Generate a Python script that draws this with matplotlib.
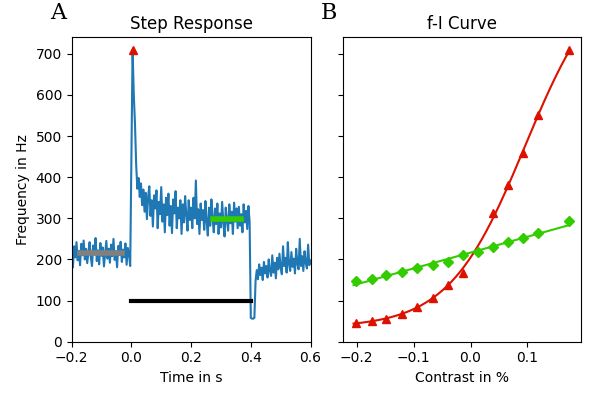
#!/usr/bin/env python3
# Step response and f-I curve of a neuron

import matplotlib
matplotlib.use('Agg')
import matplotlib.pyplot as plt
import numpy as np

# --- step response: firing rate sampled every 4 ms from -0.2 s to 0.6 s
dt = 0.004
t_start = -0.2
rate_baseline = [195, 180, 232, 205, 242, 198, 221, 186, 238, 210,
                 246, 200, 226, 191, 218, 242, 205, 184, 234, 212,
                 252, 196, 222, 188, 240, 209, 229, 183, 215, 245,
                 202, 226, 192, 236, 208, 250, 199, 220, 181, 233,
                 211, 243, 194, 224, 205, 239, 187, 228, 214, 184]
rate_stimulus = [455, 710, 600, 530, 430, 372, 398, 352, 385, 332,
                 370, 316, 362, 298, 352, 378, 306, 344, 280, 356,
                 324, 368, 276, 340, 310, 376, 292, 334, 266, 350,
                 308, 360, 282, 330, 264, 346, 312, 366, 276, 326,
                 300, 344, 262, 334, 290, 354, 308, 270, 344, 296,
                 326, 276, 350, 300, 392, 286, 322, 262, 336, 296,
                 320, 272, 342, 292, 258, 326, 282, 346, 300, 266,
                 324, 286, 336, 262, 312, 278, 340, 290, 256, 326,
                 296, 270, 334, 288, 316, 262, 338, 292, 324, 276,
                 328, 282, 310, 266, 334, 290, 318, 274, 330, 292]
rate_after = [58, 56, 56, 58,
              148, 174, 152, 188, 162, 180, 150, 194, 166, 184,
              156, 200, 172, 160, 210, 168, 192, 154, 204, 176,
              214, 180, 164, 232, 184, 204, 168, 242, 188, 172,
              218, 182, 202, 166, 226, 190, 176, 250, 184, 208,
              172, 220, 192, 178, 236, 186, 198]

stim_on, stim_off = 0.0, 0.4
stim_level = 100
baseline_win = (-0.172, -0.03)
steady_win = (0.272, 0.368)

# --- f-I curve
contrast = [-0.2017, -0.1740, -0.1483, -0.1212, -0.0936, -0.0666, -0.0397,
            -0.0138, 0.0127, 0.0397, 0.0662, 0.0931, 0.1190, 0.1738]
onset_rate = [46, 50, 56, 68, 84, 107, 138, 167, None, 313, 380, 459, 552, 709]
steady_rate = [147, 153, 161, 170, 179, 186, 193, 210, 217, 230, 242, 252, 264, 293]

red = '#dd1100'
green = '#33cc00'

rate = np.array(rate_baseline + rate_stimulus + rate_after, dtype=float)
time = t_start + dt * np.arange(len(rate))

fig = plt.figure(figsize=(6, 4), dpi=100)
ax1 = fig.add_axes([0.1195, 0.1458, 0.398, 0.7617])
ax2 = fig.add_axes([0.5712, 0.1458, 0.3967, 0.7617], sharey=ax1)

# Step response
ax1.plot(time, rate, color='#1f77b4', lw=1.5)
imax = np.argmax(rate)
ax1.plot(time[imax], rate[imax], '^', color=red, ms=6)
sel = (time >= baseline_win[0]) & (time <= baseline_win[1])
ax1.plot(baseline_win, [rate[sel].mean()] * 2, color='gray', lw=4)
sel = (time >= steady_win[0]) & (time <= steady_win[1])
ax1.plot(steady_win, [rate[sel].mean()] * 2, color=green, lw=4)
ax1.plot([stim_on, stim_off], [stim_level] * 2, color='black', lw=3)
ax1.set_xlim(-0.2, 0.6)
ax1.set_ylim(0, 741)
ax1.set_xticks([-0.2, 0.0, 0.2, 0.4, 0.6])
ax1.set_xlabel('Time in s')
ax1.set_ylabel('Frequency in Hz')
ax1.set_title('Step Response')

# f-I curve with fits
x = np.array(contrast)
on = np.array([np.nan if v is None else v for v in onset_rate], dtype=float)
ss = np.array(steady_rate, dtype=float)
ok = ~np.isnan(on)
xo, yo = x[ok], on[ok]

# Boltzmann fit: grid over midpoint and width, linear solve for base and amplitude
x0g, wg = np.meshgrid(np.linspace(-0.1, 0.4, 251), np.linspace(0.01, 0.2, 191))
x0g, wg = x0g.ravel()[:, None], wg.ravel()[:, None]
s = 1.0 / (1.0 + np.exp(-(xo[None, :] - x0g) / wg))
sm = s.mean(axis=1, keepdims=True)
ym = yo.mean()
amp = ((s - sm) * (yo - ym)).sum(axis=1, keepdims=True) / ((s - sm) ** 2).sum(axis=1, keepdims=True)
base = ym - amp * sm
err = ((base + amp * s - yo) ** 2).sum(axis=1)
k = np.argmin(err)
xf = np.linspace(x.min() - 0.004, x.max() + 0.001, 200)
yf = base[k, 0] + amp[k, 0] / (1.0 + np.exp(-(xf - x0g[k, 0]) / wg[k, 0]))

lin = np.polyfit(x, ss, 1)

ax2.plot(xf, yf, color=red, lw=1.5)
ax2.plot(xo, yo, '^', color=red, ms=6)
ax2.plot(xf, np.polyval(lin, xf), color=green, lw=1.5)
ax2.plot(x, ss, 'D', color=green, ms=5)
ax2.set_xticks([-0.2, -0.1, 0.0, 0.1])
ax2.set_xlabel('Contrast in %')
ax2.set_title('f-I Curve')
plt.setp(ax2.get_yticklabels(), visible=False)

fig.text(0.083, 0.995, 'A', fontsize=16, family='DejaVu Serif', va='top')
fig.text(0.535, 0.995, 'B', fontsize=16, family='DejaVu Serif', va='top')

fig.savefig('out.png', dpi=100)
